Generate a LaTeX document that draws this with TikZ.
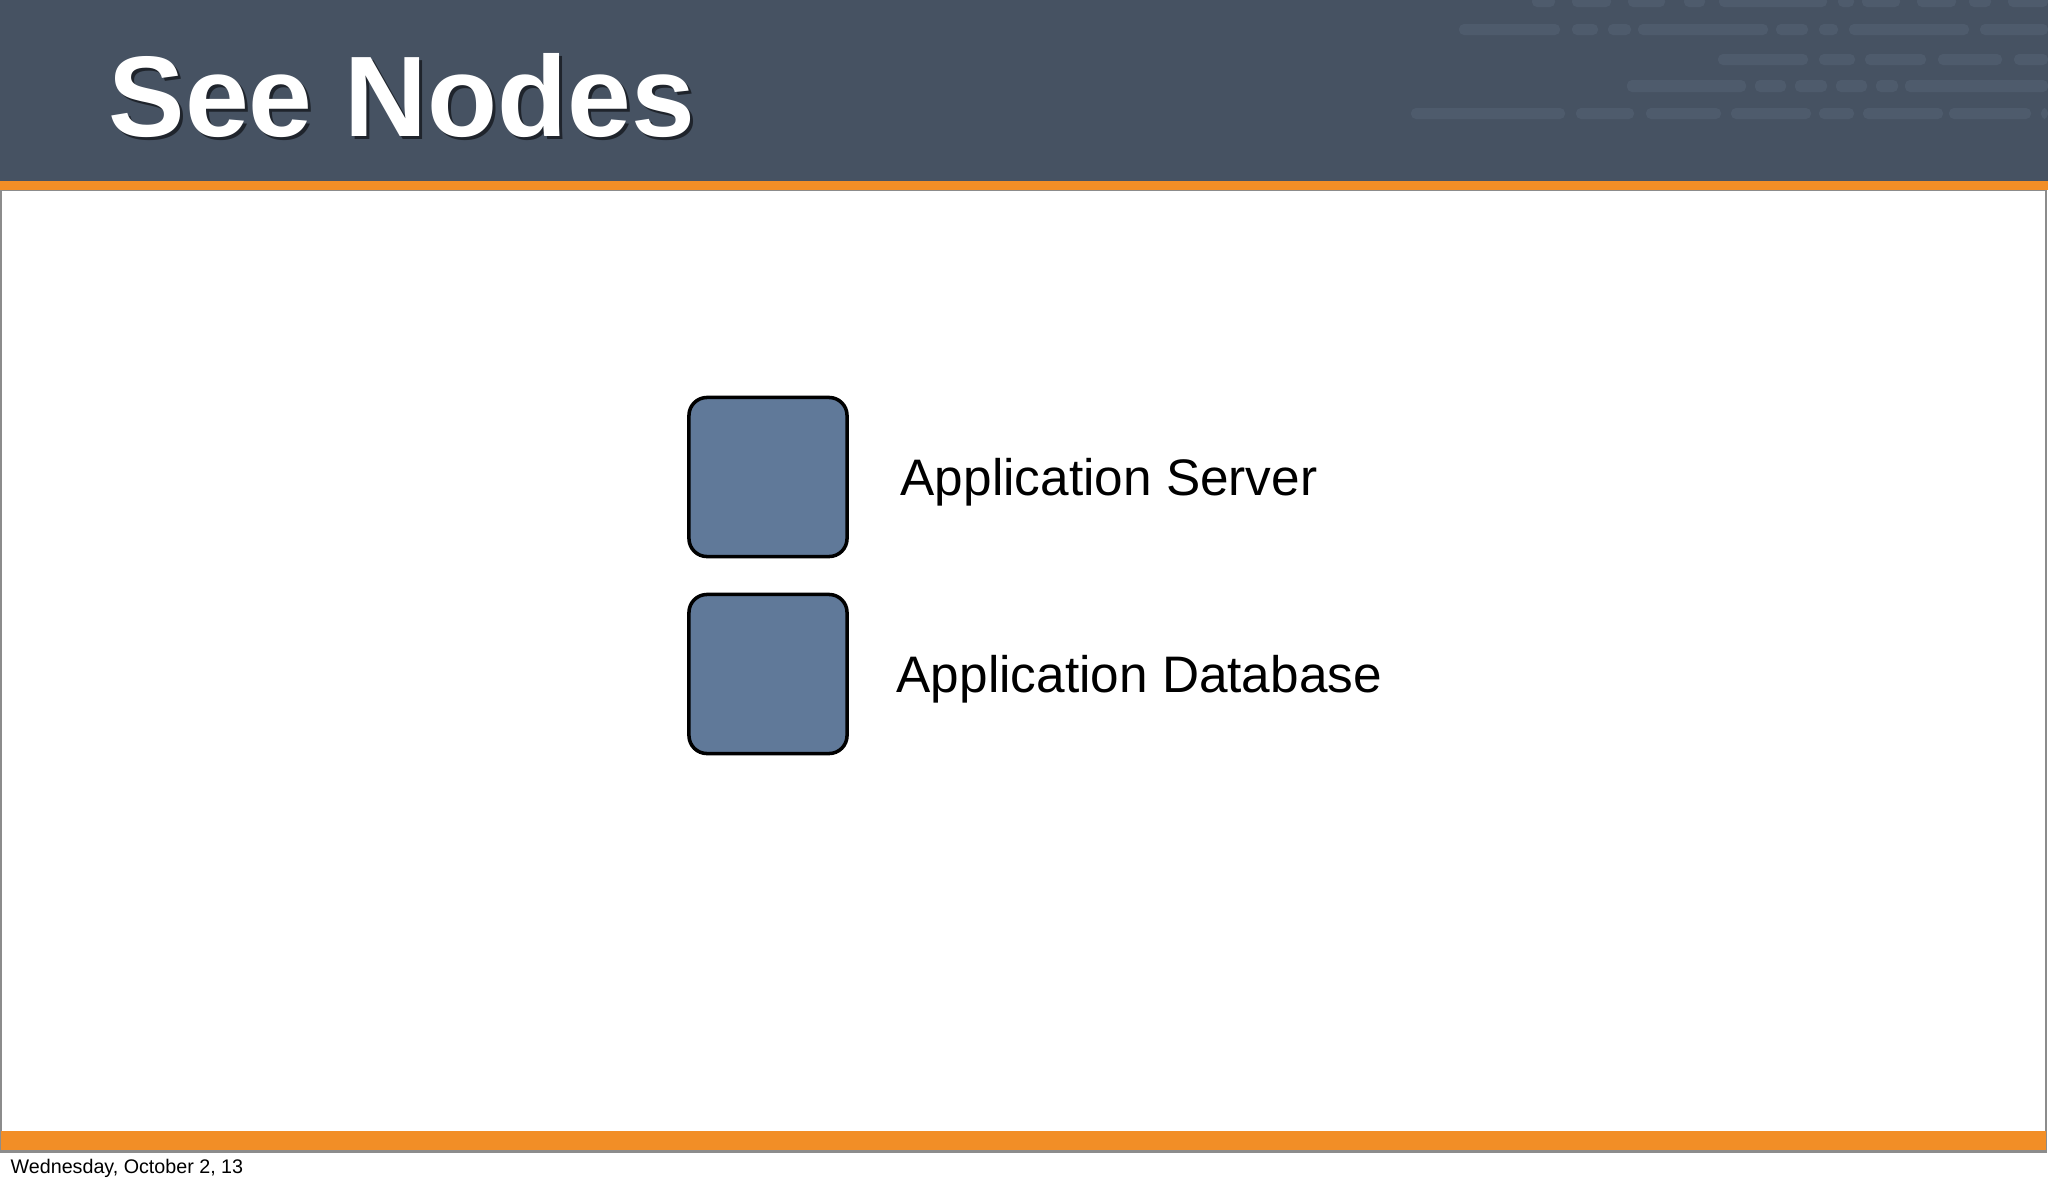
\documentclass[tikz,border=0pt]{standalone}
\usepackage{fontspec}
\setmainfont{Liberation Sans}
\definecolor{headerslate}{RGB}{70,82,98}
\definecolor{headerghost}{RGB}{78,91,108}
\definecolor{bandorange}{RGB}{242,142,38}
\definecolor{nodeblue}{RGB}{96,121,153}
\definecolor{framegray}{RGB}{140,140,140}

\begin{document}
\begin{tikzpicture}[x=0.01cm, y=-0.01cm,
    node box/.style={draw=black, fill=nodeblue, line width=1pt, rounded corners=0.18cm, minimum width=1.58cm, minimum height=1.59cm, inner sep=0pt},
    node label/.style={anchor=base west, inner sep=0pt, font=\fontsize{14.6}{17}\selectfont},
    ghost bar/.style={fill=headerghost, rounded corners=0.05cm}]

    \useasboundingbox (0,0) rectangle (2048,1184);

    % Slide frame
    \draw[framegray, line width=0.3pt] (1,190) rectangle (2046,1152);

    % Header
    \fill[headerslate] (0,0) rectangle (2048,181);
    \fill[bandorange] (0,181) rectangle (2048,190);
    \foreach \xa/\xb in {1532/1555, 1572/1611, 1628/1665, 1684/1705, 1719/1827, 1838/1854, 1862/1900, 1917/1956, 1969/1991, 2008/2048}
        \fill[ghost bar] (\xa,-4) rectangle (\xb,7);
    \foreach \xa/\xb in {1459/1560, 1572/1598, 1608/1631, 1638/1768, 1776/1808, 1819/1838, 1849/1969, 1980/2048}
        \fill[ghost bar] (\xa,24) rectangle (\xb,35);
    \foreach \xa/\xb in {1718/1808, 1819/1855, 1865/1926, 1938/2002, 2014/2048}
        \fill[ghost bar] (\xa,54) rectangle (\xb,65);
    \foreach \xa/\xb in {1627/1746, 1755/1786, 1795/1827, 1836/1867, 1876/1898, 1905/2048}
        \fill[ghost bar] (\xa,80) rectangle (\xb,92);
    \foreach \xa/\xb in {1411/1565, 1576/1634, 1646/1721, 1731/1811, 1819/1854, 1863/1943, 1949/2031, 2041/2048}
        \fill[ghost bar] (\xa,108) rectangle (\xb,119);

    \node[anchor=base west, inner sep=0pt, text=black, opacity=0.55, font=\fontsize{32.6}{40}\selectfont\bfseries] (title shadow) at (111,139) {See Nodes};
    \node[anchor=base west, inner sep=0pt, text=white, font=\fontsize{32.6}{40}\selectfont\bfseries] (title) at (108,136) {See Nodes};

    % Nodes
    \node[node box] (server) at (768,477) {};
    \node[node box] (database) at (768,674) {};

    \node[node label] (server label) at (900,495) {Application Server};
    \node[node label] (database label) at (896,692) {Application Database};

    % Footer
    \fill[bandorange] (1,1131) rectangle (2046,1151);
    \draw[framegray, line width=0.4pt] (1,1151) -- (2046,1151);
    \node[anchor=base west, inner sep=0pt, font=\fontsize{5.6}{7}\selectfont] (footer) at (10,1173) {Wednesday, October 2, 13};

\end{tikzpicture}
\end{document}
